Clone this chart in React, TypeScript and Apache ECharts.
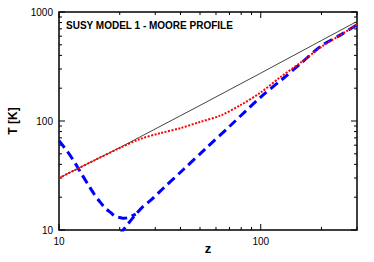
import React, { useEffect, useRef } from "react";
import * as echarts from "echarts";

const titleText = "SUSY MODEL 1 - MOORE PROFILE";
const xName = "z";
const yName = "T [K]";

// CMB temperature (thin black line)
const zCMB = [10, 20, 50, 100, 200, 300];
const tCMB = [30, 57, 139, 275, 548, 820];

// gas temperature (red dotted)
const zGas = [10, 12, 15, 20, 25, 32, 40, 50, 63, 80, 100, 126, 160, 200, 250, 300];
const tGas = [30, 35.5, 43.6, 56.5, 68, 77.6, 86, 98, 112, 141, 183, 255, 350, 480, 620, 765];

// blue dashed, branch from the left (dip)
const zDip = [10, 11, 12, 13, 14, 15, 16, 17, 18, 19, 20, 21, 22, 24];
const tDip = [66, 52.5, 41.3, 32.2, 25.8, 21.1, 18.0, 15.8, 14.5, 13.3, 13.0, 12.8, 13.0, 14.0];

// blue dashed, rising branch
const zRise = [20, 22, 24, 26, 29, 33, 41.5, 53, 71, 100, 130, 160, 200, 250, 300];
const tRise = [9.1, 11.4, 13.9, 16.3, 19.3, 24.3, 36.1, 55.2, 91.4, 166, 248, 345, 490, 620, 764];

// tick positions
const xMajorTicks = [10, 100];
const xMinorTicks = [20, 30, 40, 50, 60, 70, 80, 90, 200, 300];
const yMajorTicks = [10, 100, 1000];
const yMinorTicks = [20, 30, 40, 50, 60, 70, 80, 90, 200, 300, 400, 500, 600, 700, 800, 900];

const zip = (a: number[], b: number[]) => a.map((v, i) => [v, b[i]]);

const FONT = "Liberation Sans, Arial, Helvetica, sans-serif";

export default function App() {
  const ref = useRef<HTMLDivElement>(null);
  useEffect(() => {
    if (!ref.current) return;
    const chart = echarts.init(ref.current, undefined, { renderer: "svg" });
    const isPow10 = (v: number) => {
      const l = Math.log10(v);
      return Math.abs(l - Math.round(l)) < 1e-6;
    };
    const xTickData = [
      ...xMajorTicks.map((v) => [v, 10, 1]),
      ...xMinorTicks.map((v) => [v, 10, 0]),
    ];
    const yTickData = [
      ...yMajorTicks.map((v) => [10, v, 1]),
      ...yMinorTicks.map((v) => [10, v, 0]),
    ];
    const tickStyle = { stroke: "#000", lineWidth: 1 };
    chart.setOption({
      animation: false,
      backgroundColor: "#fff",
      title: {
        text: titleText,
        left: 66,
        top: 20,
        padding: 0,
        textStyle: { fontFamily: FONT, fontSize: 10, fontWeight: "bold", color: "#000" },
      },
      grid: {
        left: 59,
        right: 17,
        top: 12,
        bottom: 32,
        outerBoundsMode: "none",
        containLabel: false,
        show: true,
        borderColor: "#000",
        borderWidth: 1.5,
        backgroundColor: "transparent",
      },
      xAxis: {
        type: "log",
        logBase: 10,
        min: 10,
        max: 300,
        name: xName,
        nameLocation: "middle",
        nameGap: 12,
        nameMoveOverlap: false,
        nameTextStyle: { fontFamily: FONT, fontSize: 13, fontWeight: "bold", color: "#000" },
        axisLine: { show: false },
        axisTick: { show: false },
        splitLine: { show: false },
        axisLabel: {
          fontFamily: FONT,
          fontSize: 10,
          color: "#000",
          margin: 6,
          formatter: (v: number) => (isPow10(v) ? String(Math.round(v)) : ""),
        },
      },
      yAxis: {
        type: "log",
        logBase: 10,
        min: 10,
        max: 1000,
        name: yName,
        nameLocation: "middle",
        nameGap: 40,
        nameMoveOverlap: false,
        nameRotate: 90,
        nameTextStyle: { fontFamily: FONT, fontSize: 12, fontWeight: "bold", color: "#000" },
        axisLine: { show: false },
        axisTick: { show: false },
        splitLine: { show: false },
        axisLabel: {
          fontFamily: FONT,
          fontSize: 10,
          color: "#000",
          margin: 6,
          formatter: (v: number) => (isPow10(v) ? String(Math.round(v)) : ""),
        },
      },
      series: [
        {
          type: "custom",
          silent: true,
          data: xTickData,
          renderItem: (params: any, api: any) => {
            const v = api.value(0);
            const major = api.value(2) === 1;
            const p = api.coord([v, 10]);
            const cs = params.coordSys;
            const len = major ? 6 : 3;
            const bottom = cs.y + cs.height;
            return {
              type: "group",
              children: [
                { type: "line", shape: { x1: p[0], y1: bottom, x2: p[0], y2: bottom - len }, style: tickStyle },
                { type: "line", shape: { x1: p[0], y1: cs.y, x2: p[0], y2: cs.y + len }, style: tickStyle },
              ],
            };
          },
        },
        {
          type: "custom",
          silent: true,
          data: yTickData,
          renderItem: (params: any, api: any) => {
            const v = api.value(1);
            const major = api.value(2) === 1;
            const p = api.coord([10, v]);
            const cs = params.coordSys;
            const len = major ? 6 : 3;
            const right = cs.x + cs.width;
            return {
              type: "group",
              children: [
                { type: "line", shape: { x1: cs.x, y1: p[1], x2: cs.x + len, y2: p[1] }, style: tickStyle },
                { type: "line", shape: { x1: right, y1: p[1], x2: right - len, y2: p[1] }, style: tickStyle },
              ],
            };
          },
        },
        {
          type: "line",
          data: zip(zCMB, tCMB),
          showSymbol: false,
          lineStyle: { color: "#444", width: 1 },
        },
        {
          type: "line",
          data: zip(zDip, tDip),
          showSymbol: false,
          smooth: 0.3,
          lineStyle: { color: "#0000ff", width: 3, type: [9, 5] },
        },
        {
          type: "line",
          data: zip(zRise, tRise),
          showSymbol: false,
          smooth: 0.3,
          lineStyle: { color: "#0000ff", width: 3, type: [9, 5] },
        },
        {
          type: "line",
          data: zip(zGas, tGas),
          showSymbol: false,
          smooth: 0.3,
          lineStyle: { color: "#ff0000", width: 2, type: [2, 1.5] },
        },
      ],
    });
    return () => chart.dispose();
  }, []);
  return (
    <div
      ref={ref}
      style={{ position: "fixed", left: 0, top: 0, width: 374, height: 262 }}
    />
  );
}
